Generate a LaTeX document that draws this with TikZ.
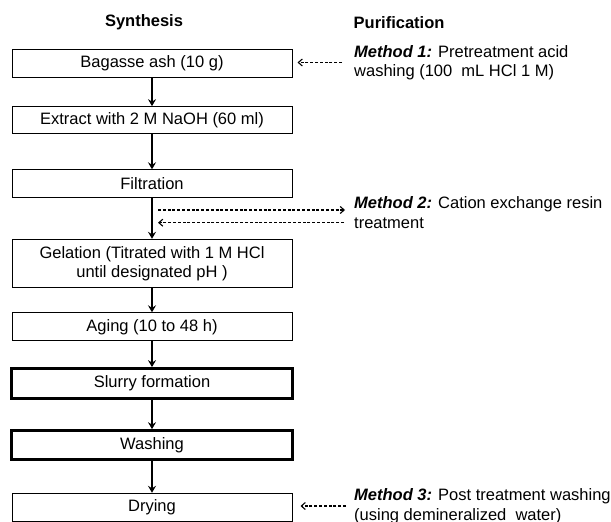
\documentclass[tikz,border=0pt]{standalone}
\usepackage{fontspec}
\setmainfont{Liberation Sans}
\usetikzlibrary{arrows.meta,calc}
\begin{document}
\begin{tikzpicture}[x=1pt,y=-1pt,
  txt/.style={font=\fontsize{16.5}{19.5}\selectfont},
  box/.style={txt, draw, line width=1pt, minimum width=280pt, minimum height=28pt, inner sep=0pt, align=center},
  thickbox/.style={box, line width=3.2pt, minimum width=281pt, minimum height=30pt},
  flow/.style={line width=1.6pt, -{Stealth[length=7pt,width=8pt,inset=2.5pt]}},
  dasharrow/.style={line width=1.2pt, dash pattern=on 3pt off 1.8pt, -{Straight Barb[length=4pt,width=7pt,line width=1.1pt]}},
  note/.style={txt, anchor=west, align=left, inner sep=0pt},
  head/.style={font=\bfseries\fontsize{16.5}{19.5}\selectfont, inner sep=0pt}
]
\useasboundingbox (0,0) rectangle (611,522);
\node[head] (hs) at (144,22.5) {Synthesis};
\node[head, anchor=west] (hp) at (353.5,22.5) {Purification};

\node[box] (b1) at (152,63.3) {Bagasse ash (10 g)};
\node[box, minimum height=27.3pt] (b2) at (152,120.3) {Extract with 2 M NaOH (60 ml)};
\node[box] (b3) at (152,183.8) {Filtration};
\node[box, minimum height=48.4pt] (b4) at (152,263.5) {Gelation (Titrated with 1 M HCl\\until designated pH )};
\node[box] (b5) at (152,326.8) {Aging (10 to 48 h)};
\node[thickbox] (b6) at (152,383.7) {Slurry formation};
\node[thickbox, minimum height=28.5pt] (b7) at (152,445) {Washing};
\node[box] (b8) at (152,507.3) {Drying};

\draw[flow] (b1) -- (b2);
\draw[flow] (b2) -- (b3);
\draw[flow] (b3) -- (b4);
\draw[flow] (b4) -- (b5);
\draw[flow] (b5) -- (b6);
\draw[flow] (b6) -- (b7);
\draw[flow] (b7) -- (b8);

\node[note] (m1) at (354,62.5) {\textbf{\textit{Method 1:}} Pretreatment acid\\washing (100~ mL HCl 1 M)};
\node[note] (m2) at (354,212.5) {\textbf{\textit{Method 2:}} Cation exchange resin\\treatment};
\node[note] (m3) at (354,506) {\textbf{\textit{Method 3:}} Post treatment washing\\(using demineralized~ water)};

\draw[dasharrow] ($(m1.west)+(-12,0)$) -- ($(b1.east)+(5,-0.8)$);
\coordinate (m2r) at (158,210);
\coordinate (m2l) at (158,222.7);
\draw[dasharrow] (m2r) -- (m2r -| 345,0);
\draw[dasharrow] (m2l -| 344,0) -- (m2l);
\draw[dasharrow] ($(m3.west)+(-8,0)$) -- ($(b8.east)+(8,-1.3)$);
\end{tikzpicture}
\end{document}
